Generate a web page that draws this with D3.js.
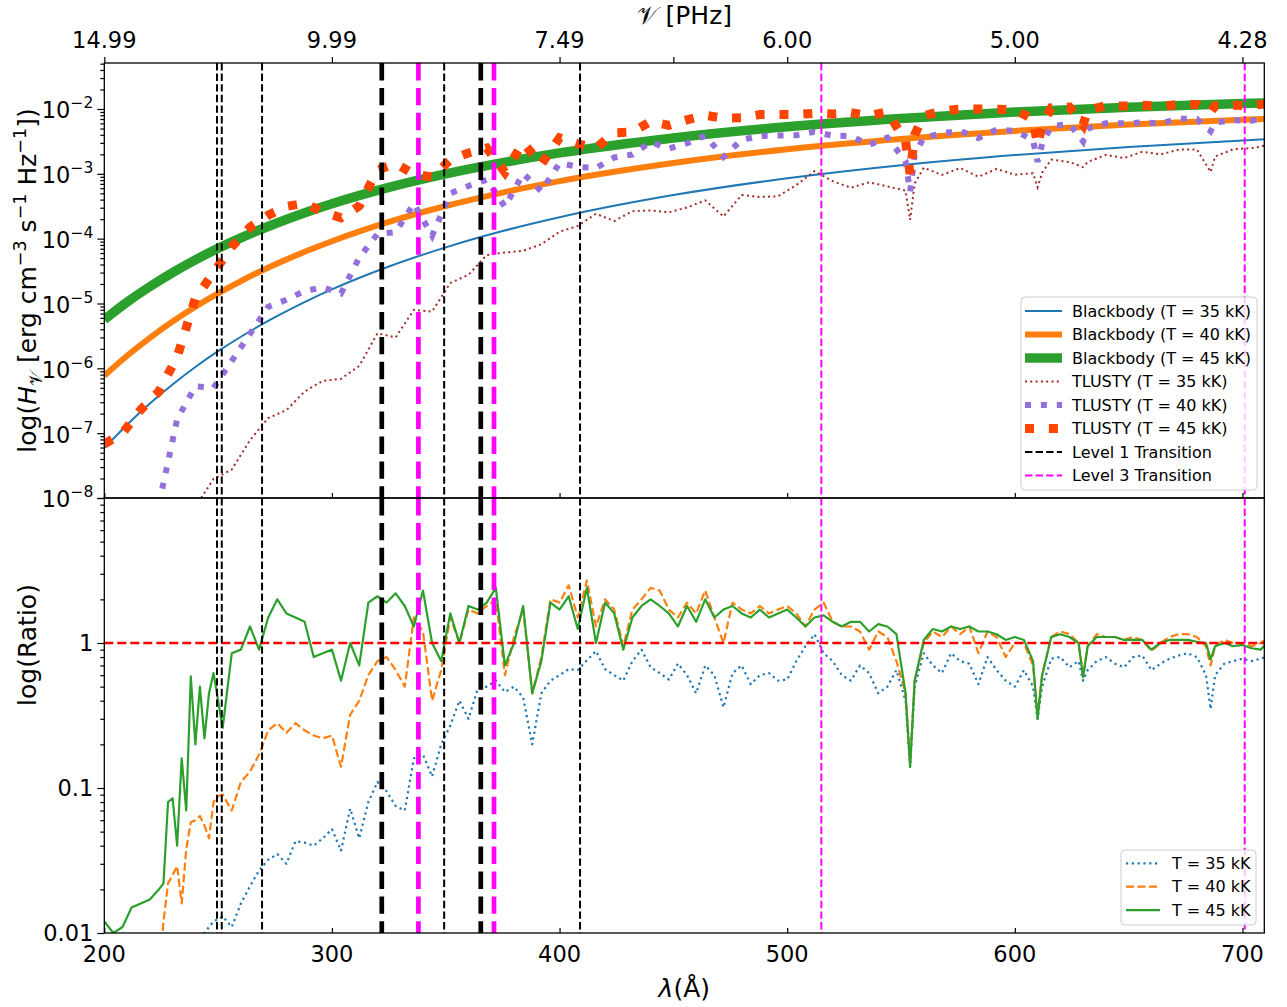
<!DOCTYPE html>
<html lang="en">
<head>
<meta charset="UTF-8">
<title>Blackbody vs TLUSTY</title>
<script src="https://d3js.org/d3.v7.min.js"></script>
<style>
    body { margin: 0; background: #fff; }
    text { font-family: "DejaVu Sans", sans-serif; fill: #000; }
    .axis path { display: none; }
    .axis line { stroke: #000; stroke-width: 1.2; }
</style>
</head>
<body>
<svg id="chart" width="1287" height="1007"></svg>
<script>
// ---------- data ----------
const bbWave = [200,210,220,230,240,250,260,275,290,300,325,350,375,400,450,500,550,600,650,700,710];
const bb35 = [5.88e-8,1.35e-7,2.86e-7,5.64e-7,1.05e-6,1.84e-6,3.07e-6,6.15e-6,1.14e-5,1.65e-5,3.72e-5,7.34e-5,1.31e-4,2.14e-4,4.70e-4,8.54e-4,1.36e-3,1.95e-3,2.60e-3,3.27e-3,3.40e-3];
const bb40 = [7.67e-7,1.56e-6,2.96e-6,5.27e-6,8.90e-6,1.43e-5,2.22e-5,3.99e-5,6.68e-5,9.13e-5,1.81e-4,3.19e-4,5.14e-4,7.72e-4,1.47e-3,2.39e-3,3.45e-3,4.59e-3,5.74e-3,6.83e-3,7.04e-3];
const bb45 = [5.66e-6,1.05e-5,1.82e-5,3.00e-5,4.71e-5,7.09e-5,1.03e-4,1.70e-4,2.65e-4,3.46e-4,6.18e-4,9.99e-4,1.49e-3,2.10e-3,3.58e-3,5.32e-3,7.15e-3,8.96e-3,1.065e-2,1.215e-2,1.24e-2];

const tlWave = [200,208,216,224,232,240,248,256,264,272,
    280,288,296,304,312,320,328,336,344,352,
    360,368,376,384,392,400,408,416,424,432,
    440,448,456,464,472,480,488,496,504,512,
    520,528,536,544,552,554,556,560,568,576,
    584,592,600,608,610,612,616,624,630,632,
    640,648,656,664,672,680,686,688,696,704,
    710];
const tl35 = [null,null,null,null,null,7.3e-9,1.97e-8,2.75e-8,7.8e-8,1.71e-7,
    2.26e-7,4.4e-7,6.4e-7,6.9e-7,1.09e-6,3.47e-6,3.0e-6,8.0e-6,7.5e-6,2.07e-5,
    2.77e-5,5.6e-5,6.1e-5,6.5e-5,8.2e-5,1.28e-4,1.57e-4,2.42e-4,1.87e-4,2.65e-4,
    2.73e-4,2.55e-4,3.03e-4,3.9e-4,2.2e-4,4.7e-4,4.4e-4,4.5e-4,6.7e-4,1.1e-3,
    7.7e-4,6.1e-4,7.4e-4,6.4e-4,5.5e-4,1.95e-4,7.1e-4,1.24e-3,9.6e-4,1.23e-3,
    9.0e-4,1.19e-3,9.7e-4,1.02e-3,6.2e-4,1.04e-3,1.66e-3,1.52e-3,1.27e-3,1.52e-3,
    1.96e-3,1.75e-3,2.19e-3,1.99e-3,2.36e-3,2.38e-3,1.07e-3,1.85e-3,2.4e-3,2.49e-3,
    2.72e-3];
const tl40 = [null,null,null,8e-9,1.64e-7,5.3e-7,5.0e-7,1.3e-6,3.4e-6,8.9e-6,
    1.14e-5,1.56e-5,1.77e-5,1.43e-5,5.1e-5,1.18e-4,1.26e-4,3.5e-4,1.11e-4,5.0e-4,
    6.5e-4,8.1e-4,3.1e-4,1.01e-3,5.4e-4,1.47e-3,1.28e-3,1.23e-3,1.79e-3,1.98e-3,
    3.1e-3,2.44e-3,2.96e-3,3.88e-3,1.82e-3,3.34e-3,3.83e-3,3.9e-3,3.94e-3,4.43e-3,
    3.87e-3,3.82e-3,2.8e-3,3.63e-3,1.57e-3,5.3e-4,1.96e-3,3.66e-3,4.2e-3,4.6e-3,
    3.56e-3,4.8e-3,4.6e-3,3.33e-3,1.53e-3,2.9e-3,5.4e-3,5.9e-3,3.15e-3,5.0e-3,
    6.0e-3,6.0e-3,6.2e-3,6.0e-3,7.1e-3,7.0e-3,4.55e-3,6.2e-3,6.7e-3,6.6e-3,
    7.4e-3];
const tl45 = [6.8e-8,1.0e-7,2.3e-7,4.4e-7,1.5e-6,1.2e-5,3.0e-5,7.5e-5,1.5e-4,2.3e-4,
    3.15e-4,3.5e-4,2.6e-4,2.1e-4,3.2e-4,1.15e-3,1.44e-3,9.9e-4,8.9e-4,1.65e-3,
    2.1e-3,2.5e-3,1.06e-3,3.0e-3,1.4e-3,3.6e-3,2.9e-3,2.5e-3,4.3e-3,4.4e-3,
    6.4e-3,5.6e-3,6.8e-3,8.0e-3,7.2e-3,7.3e-3,8.2e-3,8.2e-3,8.2e-3,8.6e-3,
    8.4e-3,8.8e-3,7.9e-3,9.0e-3,3.2e-3,1.0e-3,4.0e-3,7.9e-3,9.3e-3,1.0e-2,
    1.0e-2,9.9e-3,9.8e-3,6.9e-3,2.8e-3,5.6e-3,1.04e-2,1.07e-2,5.7e-3,9.5e-3,
    1.13e-2,1.11e-2,1.14e-2,1.10e-2,1.18e-2,1.17e-2,9.0e-3,1.12e-2,1.14e-2,1.13e-2,
    1.2e-2];

const ratioWave = [200,204,208,212,216,220,224,226,228,230,
    232,234,236,238,240,242,244,246,248,250,
    252,256,260,264,268,272,276,
    280,284,288,292,296,300,304,308,312,316,
    320,324,328,332,336,340,344,348,352,356,
    360,364,368,372,376,380,384,388,392,396,
    400,404,408,412,416,420,424,428,432,436,
    440,444,448,452,456,460,464,468,472,476,
    480,484,488,492,496,500,504,508,512,516,
    520,524,528,532,536,540,544,548,552,554,556,
    560,564,568,572,576,580,584,588,592,596,
    600,604,608,610,612,616,620,624,628,630,632,636,
    640,644,648,652,656,660,664,668,672,676,
    680,684,686,688,692,696,700,704,708,710];
const ratio35 = [null,null,null,null,null,null,null,null,null,null,
    null,null,null,null,0.007,0.0085,0.010,0.011,0.012,0.0125,
    0.013,0.011,0.016,0.021,0.027,0.032,0.035,
    0.03,0.043,0.042,0.04,0.045,0.052,0.037,0.072,0.045,0.08,
    0.11,0.095,0.075,0.07,0.16,0.17,0.12,0.2,0.27,0.4,
    0.3,0.48,0.5,0.55,0.46,0.5,0.42,0.2,0.45,0.55,
    0.6,0.66,0.65,0.76,0.88,0.66,0.6,0.55,0.75,0.9,
    0.68,0.62,0.56,0.72,0.6,0.45,0.7,0.6,0.36,0.62,
    0.7,0.52,0.6,0.62,0.55,0.56,0.75,0.95,1.15,0.85,
    0.75,0.6,0.55,0.7,0.62,0.45,0.5,0.65,0.4,0.14,0.5,
    0.85,0.7,0.62,0.85,0.75,0.72,0.52,0.8,0.65,0.55,
    0.5,0.65,0.5,0.3,0.5,0.78,0.8,0.68,0.75,0.55,0.65,0.75,
    0.8,0.72,0.68,0.8,0.82,0.65,0.72,0.78,0.82,0.85,
    0.8,0.6,0.35,0.6,0.72,0.75,0.78,0.75,0.78,0.8];
const ratio40 = [null,null,null,null,null,null,0.005,0.012,0.022,0.025,
    0.029,0.016,0.038,0.058,0.06,0.064,0.055,0.045,0.08,0.088,
    0.09,0.07,0.11,0.13,0.17,0.25,0.28,
    0.24,0.28,0.25,0.23,0.22,0.23,0.14,0.32,0.4,0.6,
    0.75,0.8,0.65,0.5,1.5,1.2,0.4,0.65,1.5,1.0,
    1.7,1.6,1.8,2.0,0.6,1.1,1.7,0.45,0.8,2.0,
    1.9,2.5,1.5,2.7,1.3,2.0,1.7,0.95,1.7,2.0,
    2.4,2.3,1.7,1.5,1.9,1.6,2.3,1.5,1.0,1.9,
    1.7,1.6,1.8,1.6,1.7,1.8,1.6,1.3,1.7,1.9,
    1.4,1.3,1.3,1.2,0.9,1.2,1.1,0.75,0.45,0.15,0.55,
    1.0,1.2,1.1,1.3,1.15,1.3,0.85,1.2,1.1,0.8,
    1.0,1.0,0.7,0.32,0.6,1.1,1.2,1.15,1.0,0.6,0.95,1.15,
    1.1,1.1,1.05,1.1,1.05,0.88,1.0,1.1,1.15,1.15,
    1.1,0.95,0.7,0.95,1.05,1.0,1.0,0.95,1.0,1.05];
const ratio45 = [0.012,0.010,0.011,0.015,0.016,0.017,0.020,0.022,0.08,0.085,
    0.04,0.16,0.07,0.59,0.2,0.5,0.22,0.45,0.62,0.4,
    0.26,0.85,0.9,1.3,0.9,1.5,2.0,
    1.6,1.5,1.4,0.8,0.85,0.9,0.55,1.0,0.7,1.9,
    2.1,1.9,2.2,1.8,1.3,2.3,1.0,0.75,1.6,1.0,
    1.8,1.7,1.9,2.4,0.7,1.0,1.8,0.45,0.75,1.9,
    1.7,2.1,1.25,2.4,1.0,1.9,1.6,0.9,1.5,1.8,
    2.0,1.8,1.6,1.3,1.8,1.4,2.0,1.5,1.7,1.8,
    1.6,1.5,1.7,1.5,1.6,1.7,1.5,1.3,1.5,1.55,
    1.4,1.3,1.4,1.4,1.2,1.35,1.3,1.15,0.45,0.14,0.55,
    1.05,1.25,1.2,1.3,1.25,1.3,1.2,1.2,1.15,1.05,
    1.1,1.05,0.75,0.3,0.6,1.1,1.15,1.1,1.0,0.58,0.95,1.1,
    1.1,1.1,1.05,1.05,1.05,0.9,1.0,1.05,1.05,1.05,
    1.02,1.0,0.77,0.95,1.0,0.95,0.97,0.92,0.9,0.97];

// transition wavelengths (Angstrom)
const level1Thin = [249.5, 251.6, 269.3, 349.3, 409.0];
const level1Thick = [321.9, 365.4];
const level3Thick = [338.0, 371.2];
const level3Thin = [515.0, 701.0];

const waveTicks = [200, 300, 400, 500, 600, 700];
const freqTicks = [200, 300, 400, 450, 500, 600, 700];
const freqLabels = ["14.99", "9.99", "7.49", "", "6.00", "5.00", "4.28"];
const topMajors = [1e-8, 1e-7, 1e-6, 1e-5, 1e-4, 1e-3, 1e-2];
const topExps = ["\u22128", "\u22127", "\u22126", "\u22125", "\u22124", "\u22123", "\u22122"];
const botMajors = [0.01, 0.1, 1, 10];
const botLabels = ["0.01", "0.1", "1", ""];

const topLegend = ["Blackbody (T = 35 kK)", "Blackbody (T = 40 kK)", "Blackbody (T = 45 kK)",
    "TLUSTY (T = 35 kK)", "TLUSTY (T = 40 kK)", "TLUSTY (T = 45 kK)",
    "Level 1 Transition", "Level 3 Transition"];
const botLegend = ["T = 35 kK", "T = 40 kK", "T = 45 kK"];

// ---------- layout ----------
const left = 104.3, right = 1264.3, top1 = 63, mid = 498, bot = 933;
const svg = d3.select("#chart");

const x = d3.scaleLinear().domain([200, 709.6]).range([left, right]);
const yTop = d3.scaleLog().domain([1e-8, 5.12e-2]).range([mid, top1]);
const yBot = d3.scaleLog().domain([0.01, 10]).range([bot, mid]);

const defs = svg.append("defs");
defs.append("clipPath").attr("id", "clipTop").append("rect")
    .attr("x", left).attr("y", top1).attr("width", right - left).attr("height", mid - top1);
defs.append("clipPath").attr("id", "clipBot").append("rect")
    .attr("x", left).attr("y", mid).attr("width", right - left).attr("height", bot - mid);

const gTop = svg.append("g").attr("clip-path", "url(#clipTop)");
const gBot = svg.append("g").attr("clip-path", "url(#clipBot)");

const pairs = (wave, vals) => wave.map((w, i) => [w, vals[i]]);

const smoothTop = d3.line().x(d => x(d[0])).y(d => yTop(d[1])).curve(d3.curveMonotoneX);
const lineTop = d3.line().defined(d => d[1] != null).x(d => x(d[0])).y(d => yTop(d[1]));
const lineBot = d3.line().defined(d => d[1] != null).x(d => x(d[0])).y(d => yBot(d[1]));

const topSeries = [
    { wave: bbWave, vals: bb35, color: "#1f77b4", w: 2, dash: null, gen: smoothTop },
    { wave: bbWave, vals: bb40, color: "#ff7f0e", w: 6, dash: null, gen: smoothTop },
    { wave: bbWave, vals: bb45, color: "#2ca02c", w: 9.5, dash: null, gen: smoothTop },
    { wave: tlWave, vals: tl35, color: "#a52a2a", w: 2, dash: "2,3.3", gen: lineTop },
    { wave: tlWave, vals: tl40, color: "#9370db", w: 6, dash: "6,9.9", gen: lineTop },
    { wave: tlWave, vals: tl45, color: "#ff4500", w: 9, dash: "9,14.9", gen: lineTop }
];
topSeries.forEach(s => {
    gTop.append("path")
        .attr("d", s.gen(pairs(s.wave, s.vals)))
        .attr("fill", "none")
        .attr("stroke", s.color)
        .attr("stroke-width", s.w)
        .attr("stroke-dasharray", s.dash);
});

const botSeries = [
    { vals: ratio35, color: "#1f77b4", dash: "2.2,3.6" },
    { vals: ratio40, color: "#ff7f0e", dash: "8,3.5" },
    { vals: ratio45, color: "#2ca02c", dash: null }
];
botSeries.forEach(s => {
    gBot.append("path")
        .attr("d", lineBot(pairs(ratioWave, s.vals)))
        .attr("fill", "none")
        .attr("stroke", s.color)
        .attr("stroke-width", 2.2)
        .attr("stroke-linejoin", "round")
        .attr("stroke-dasharray", s.dash);
});

gBot.append("line")
    .attr("x1", left).attr("x2", right)
    .attr("y1", yBot(1)).attr("y2", yBot(1))
    .attr("stroke", "red").attr("stroke-width", 2.5)
    .attr("stroke-dasharray", "9,4");

// transition lines in both panels
const vGroups = [
    { waves: level1Thin, color: "#000", w: 2, dash: "7.4,3.2" },
    { waves: level1Thick, color: "#000", w: 4.7, dash: "17.4,7.5" },
    { waves: level3Thick, color: "#ff00ff", w: 4.7, dash: "17.4,7.5" },
    { waves: level3Thin, color: "#ff00ff", w: 2, dash: "7.4,3.2" }
];
[[gTop, top1, mid], [gBot, mid, bot]].forEach(([g, y0, y1]) => {
    vGroups.forEach(v => {
        g.selectAll(null).data(v.waves).enter().append("line")
            .attr("x1", d => x(d)).attr("x2", d => x(d))
            .attr("y1", y0).attr("y2", y1)
            .attr("stroke", v.color)
            .attr("stroke-width", v.w)
            .attr("stroke-dasharray", v.dash);
    });
});

// ---------- axes ----------
const isPow10 = v => Math.abs(Math.log10(v) - Math.round(Math.log10(v))) < 1e-9;

function yAxes(scale, majors) {
    svg.append("g").attr("class", "axis")
        .attr("transform", `translate(${left},0)`)
        .call(d3.axisLeft(scale).tickValues(majors).tickSize(7).tickSizeOuter(0).tickFormat(""));
    svg.append("g").attr("class", "axis")
        .attr("transform", `translate(${left},0)`)
        .call(d3.axisLeft(scale).tickValues(scale.ticks().filter(v => !isPow10(v))).tickSize(4).tickSizeOuter(0).tickFormat(""));
}
yAxes(yTop, topMajors);
yAxes(yBot, botMajors);

topMajors.forEach((v, i) => {
    const t = svg.append("text")
        .attr("x", left - 11).attr("y", yTop(v)).attr("dy", "0.42em")
        .attr("text-anchor", "end").attr("font-size", 22.5);
    t.append("tspan").text("10");
    t.append("tspan").attr("dy", -10).attr("font-size", 15.5).text(topExps[i]);
});
botMajors.forEach((v, i) => {
    svg.append("text")
        .attr("x", left - 11).attr("y", yBot(v)).attr("dy", "0.36em")
        .attr("text-anchor", "end").attr("font-size", 22.5).text(botLabels[i]);
});

// wavelength axis (bottom, ticks inward) and inner ticks at the panel joint
svg.append("g").attr("class", "axis")
    .attr("transform", `translate(0,${bot})`)
    .call(d3.axisBottom(x).tickValues(waveTicks).tickSize(-5).tickSizeOuter(0).tickFormat(""));
svg.append("g").attr("class", "axis")
    .attr("transform", `translate(0,${mid})`)
    .call(d3.axisBottom(x).tickValues(waveTicks).tickSize(-5).tickSizeOuter(0).tickFormat(""));
svg.selectAll(null).data(waveTicks).enter().append("text")
    .attr("x", d => x(d)).attr("y", bot + 29)
    .attr("text-anchor", "middle").attr("font-size", 22.5)
    .text(d => d);

// frequency axis on top
svg.append("g").attr("class", "axis")
    .attr("transform", `translate(0,${top1})`)
    .call(d3.axisTop(x).tickValues(freqTicks).tickSize(6).tickSizeOuter(0).tickFormat(""));
svg.selectAll(null).data(freqTicks).enter().append("text")
    .attr("x", d => x(d)).attr("y", 48)
    .attr("text-anchor", "middle").attr("font-size", 22.5)
    .text((d, i) => freqLabels[i]);

// spines
[[top1, mid], [mid, bot]].forEach(([a, b]) => {
    svg.append("rect").attr("x", left).attr("y", a)
        .attr("width", right - left).attr("height", b - a)
        .attr("fill", "none").attr("stroke", "#000").attr("stroke-width", 1.3);
});

// ---------- labels ----------
function rich(t, parts, size) {
    let shift = 0;
    parts.forEach(p => {
        const target = p.sup ? -size * 0.42 : p.sub ? size * 0.22 : 0;
        const ts = t.append("tspan").attr("dy", target - shift).text(p.t);
        shift = target;
        if (p.sup || p.sub) ts.attr("font-size", size * 0.7);
        if (p.it) ts.attr("font-style", "italic");
    });
}

rich(svg.append("text")
        .attr("transform", `translate(36,${(top1 + mid) / 2}) rotate(-90)`)
        .attr("text-anchor", "middle").attr("font-size", 25),
    [{ t: "log(" }, { t: "H", it: 1 }, { t: "\u{1D4B1}", sub: 1 }, { t: " [erg cm" }, { t: "\u22123", sup: 1 },
     { t: " s" }, { t: "\u22121", sup: 1 }, { t: " Hz" }, { t: "\u22121", sup: 1 }, { t: "])" }], 25);

svg.append("text")
    .attr("transform", `translate(36,645) rotate(-90)`)
    .attr("text-anchor", "middle").attr("font-size", 25)
    .text("log(Ratio)");

rich(svg.append("text")
        .attr("x", (left + right) / 2).attr("y", 997)
        .attr("text-anchor", "middle").attr("font-size", 25),
    [{ t: "\u03BB", it: 1 }, { t: "(\u00C5)" }], 25);

svg.append("text")
    .attr("x", (left + right) / 2).attr("y", 24)
    .attr("text-anchor", "middle").attr("font-size", 25)
    .text("\u{1D4B1} [PHz]");

// ---------- legends ----------
function legend(x0, y0, w, h, rows, rowY, lineX0, lineX1, textX) {
    const g = svg.append("g");
    g.append("rect").attr("x", x0).attr("y", y0).attr("width", w).attr("height", h)
        .attr("rx", 4).attr("fill", "#fff").attr("fill-opacity", 0.8)
        .attr("stroke", "#cccccc").attr("stroke-width", 1);
    rows.forEach((r, i) => {
        const yy = rowY(i);
        g.append("line").attr("x1", lineX0).attr("x2", lineX1).attr("y1", yy).attr("y2", yy)
            .attr("stroke", r.color).attr("stroke-width", r.w).attr("stroke-dasharray", r.dash);
        g.append("text").attr("x", textX).attr("y", yy).attr("dy", "0.36em")
            .attr("font-size", 16).text(r.label);
    });
}

const topRows = topSeries.map((s, i) => ({ label: topLegend[i], color: s.color, w: s.w, dash: s.dash }))
    .concat([
        { label: topLegend[6], color: "#000", w: 2, dash: "7.4,3.2" },
        { label: topLegend[7], color: "#ff00ff", w: 2, dash: "7.4,3.2" }
    ]);
legend(1021, 297, 236, 193, topRows, i => 311 + i * 23.5, 1025, 1062, 1072);

const botRows = botSeries.map((s, i) => ({ label: botLegend[i], color: s.color, w: 2.2, dash: s.dash }));
legend(1121, 850, 135, 75, botRows, i => 863.3 + i * 23.4, 1126, 1160, 1172);
</script>
</body>
</html>
